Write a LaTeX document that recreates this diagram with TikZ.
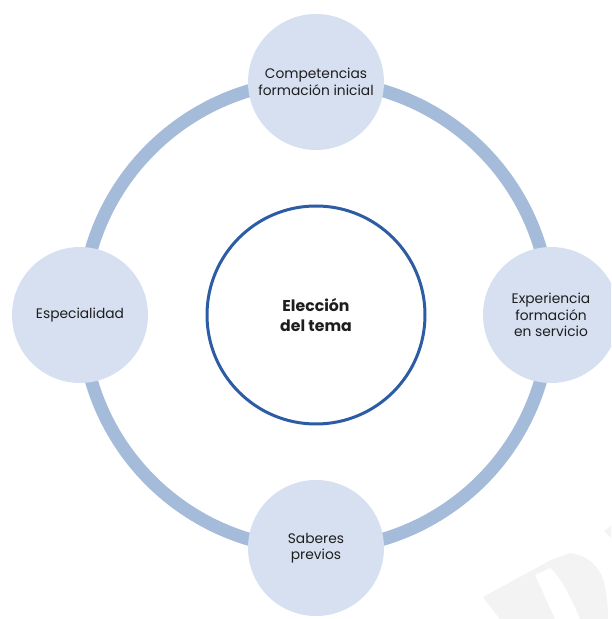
\documentclass[tikz,border=0pt]{standalone}
\usepackage{fontspec}
\setmainfont{Poppins}
\definecolor{ringc}{HTML}{A4BBDA}
\definecolor{satfill}{HTML}{D6E0F1}
\definecolor{centc}{HTML}{2C5CA3}
\definecolor{txtc}{HTML}{1E1E1E}
\definecolor{wmc}{HTML}{F3F3F3}
\begin{document}
\begin{tikzpicture}[x=1pt,y=1pt,
  sat/.style={circle,fill=satfill,minimum size=136pt,inner sep=0pt,align=center,
    font=\fontsize{13.8}{16.5}\selectfont,text=txtc},
  cent/.style={circle,draw=centc,line width=3pt,fill=white,minimum size=218pt,inner sep=0pt,
    align=center,font=\fontsize{15.7}{19.5}\selectfont\bfseries,text=txtc}]
\useasboundingbox (0,0) rectangle (611,619);
\begin{scope}
\clip (0,0) rectangle (611,619);
% faint watermark fragment (bottom right)
\begin{scope}[shift={(0,619)},yscale=-1]
\fill[wmc] (483,597) -- (551,560) -- (570,553) .. controls (590,556) and (600,568) .. (604,582)
  .. controls (607,595) and (608,607) .. (608,619) -- (580,619)
  .. controls (572,600) and (562,578) .. (550,568) -- (535,575) -- (555,619) -- (500,619)
  -- (488,604) -- cycle;
\fill[wmc] (604,531) -- (611,526) -- (611,538) -- cycle;
\end{scope}
\draw[ringc,line width=13pt] (316,304) circle[radius=234];
\node[cent] (c) at (316,304) {Elección\\del tema};
\node[sat] (top) at (316,537) {Competencias\\formación inicial};
\node[sat] (left) at (80,304) {Especialidad};
\node[sat] (right) at (551,304) {Experiencia\\formación\\en servicio};
\node[sat] (bot) at (316,71) {Saberes\\previos};
\end{scope}
\end{tikzpicture}
\end{document}
